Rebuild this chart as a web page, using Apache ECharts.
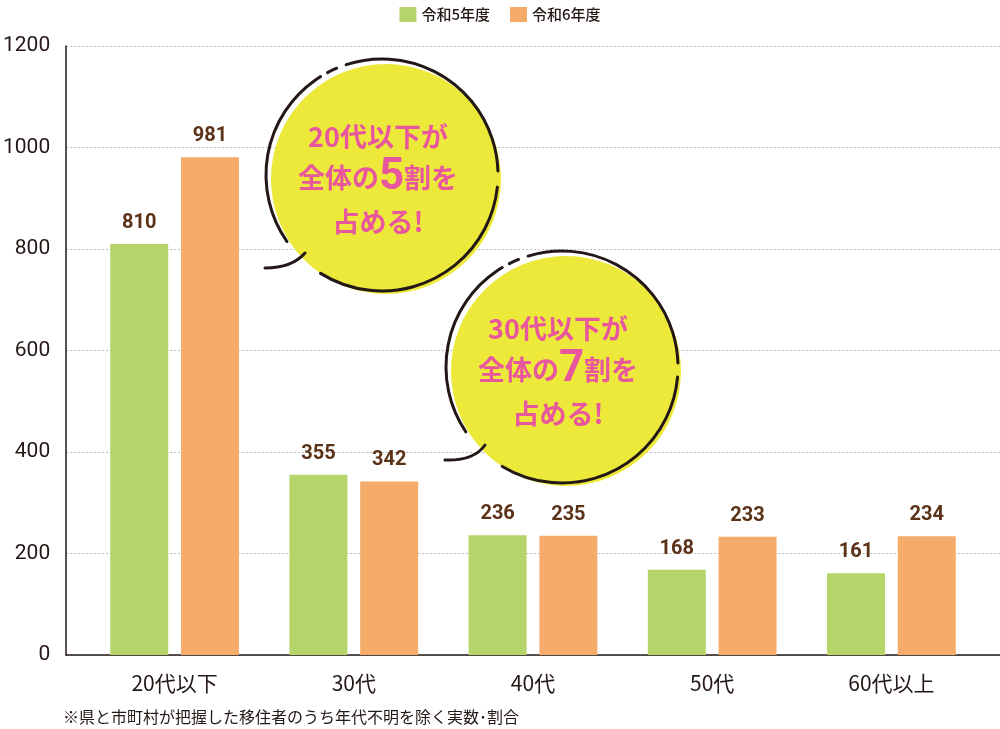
<!DOCTYPE html>
<html>
<head>
<meta charset="utf-8">
<script src="https://cdn.jsdelivr.net/npm/echarts@6/dist/echarts.min.js"></script>
<style>
html,body{margin:0;padding:0;background:#fff;}
#c{width:1000px;height:729px;}
</style>
</head>
<body>
<div id="c"></div>
<script>
const categories = ['20代以下', '30代', '40代', '50代', '60代以上'];
const seriesNames = ['令和5年度', '令和6年度'];
const r5Values = [810, 355, 236, 168, 161];
const r6Values = [981, 342, 235, 233, 234];
const yTicks = [0, 200, 400, 600, 800, 1000, 1200];
const callout1 = ['20代以下が', '全体の', '5', '割を', '占める!'];
const callout2 = ['30代以下が', '全体の', '7', '割を', '占める!'];
const noteText = '※県と市町村が把握した移住者のうち年代不明を除く実数･割合';

const JP = '"Noto Sans CJK JP", "Noto Sans", sans-serif';
const NUM = 'Roboto, "Noto Sans", sans-serif';
const GREEN = '#b5d56a', ORANGE = '#f5ab69', BROWN = '#5b3218', PINK = '#e8579d', YELLOW = '#ece93a', INK = '#231815';

const chart = echarts.init(document.getElementById('c'));
const deg = d => d * Math.PI / 180;

function callout(cx, cy, r, lines, tail, gaps) {
  const els = [];
  els.push({type:'circle', z:10, shape:{cx:cx+4, cy:cy+4, r:r-1}, style:{fill:YELLOW}});
  gaps.forEach(s => els.push({type:'arc', z:11, shape:{cx:cx, cy:cy, r:r, startAngle:deg(s[0]), endAngle:deg(s[1]), clockwise:true},
    style:{stroke:INK, lineWidth:3, fill:null, lineCap:'round'}}));
  els.push({type:'bezierCurve', z:11, shape:tail, style:{stroke:INK, lineWidth:3, fill:null, lineCap:'round'}});
  els.push({type:'text', z:12, style:{x:cx-4, y:cy-38, text:lines[0], fill:PINK, font:'bold 27px ' + JP, textAlign:'center', textVerticalAlign:'middle'}});
  els.push({type:'text', z:12, style:{x:cx-4, y:cy+3, text:lines[1] + '{big|' + lines[2] + '}' + lines[3], fill:PINK, font:'bold 27px ' + JP, textAlign:'center', textVerticalAlign:'middle',
    rich:{big:{fontSize:44, fontWeight:'bold', fontFamily:NUM, fill:PINK, color:PINK}}}});
  els.push({type:'text', z:12, style:{x:cx-4, y:cy+47, text:lines[4], fill:PINK, font:'bold 27px ' + JP, textAlign:'center', textVerticalAlign:'middle'}});
  return els;
}

const graphics = []
  .concat(callout(382, 175, 116, callout1, {x1:265, y1:268, cpx1:292, cpy1:268, x2:305, y2:253},
    [[252, 358], [6, 122], [145, 238], [242, 247]]))
  .concat(callout(562, 367, 116, callout2, {x1:445, y1:460, cpx1:474, cpy1:461, x2:485, y2:445},
    [[253, 358], [5, 121], [146, 239], [243, 248]]));
graphics.push({type:'text', left:63, top:709, style:{text:noteText, fill:INK, font:'16px ' + JP}});

const labelStyle = {show:true, position:'top', distance:11, color:BROWN, fontSize:20, fontWeight:'bold', fontFamily:NUM};

chart.setOption({
  animation:false,
  textStyle:{fontFamily:JP},
  legend:{top:2, left:'center', itemWidth:17, itemHeight:15, itemGap:20, icon:'rect',
    textStyle:{fontSize:15, fontWeight:500, color:INK, fontFamily:JP}, data:seriesNames},
  grid:[
    {left:63, right:0, top:46, bottom:74},
    {left:85, right:19, top:46, bottom:74}
  ],
  xAxis:[
    {type:'category', gridIndex:0, data:[''], axisLine:{lineStyle:{color:INK, width:1.5}}, axisTick:{show:false}, axisLabel:{show:false}},
    {type:'category', gridIndex:1, data:categories, axisLine:{show:false}, axisTick:{show:false},
      axisLabel:{fontSize:21, color:INK, margin:18, fontFamily:JP}}
  ],
  yAxis:[
    {type:'value', gridIndex:0, min:yTicks[0], max:yTicks[yTicks.length-1], interval:200,
      axisLine:{show:true, lineStyle:{color:INK, width:1.5}}, axisTick:{show:false},
      axisLabel:{fontSize:21, color:INK, margin:16, fontFamily:NUM, formatter:v => String(v)}},
    {type:'value', gridIndex:1, min:yTicks[0], max:yTicks[yTicks.length-1], interval:200, show:false, splitLine:{show:false}}
  ],
  series:[
    {name:seriesNames[0], type:'bar', xAxisIndex:1, yAxisIndex:1, data:r5Values, barWidth:58, barGap:'22%',
      itemStyle:{color:GREEN}, label:labelStyle},
    {name:seriesNames[1], type:'bar', xAxisIndex:1, yAxisIndex:1, data:r6Values, barWidth:58, barGap:'22%',
      itemStyle:{color:ORANGE}, label:labelStyle}
  ],
  graphic:graphics
});
chart.setOption({yAxis:[{splitLine:{show:true, lineStyle:{color:'#bbbbbb', type:[2,2], width:1}}}]});
</script>
</body>
</html>
